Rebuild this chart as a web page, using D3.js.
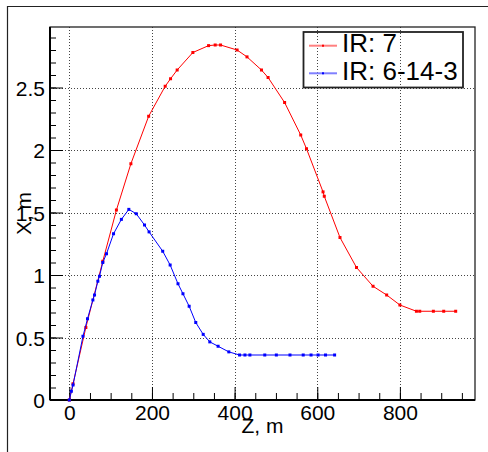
<!DOCTYPE html>
<html>
<head>
<meta charset="utf-8">
<script src="https://cdn.jsdelivr.net/npm/d3@7"></script>
<style>
  body { margin: 0; background: #fff; }
  svg { display: block; font-family: "Liberation Sans", Arial, sans-serif; }
</style>
</head>
<body>
<svg id="chart" width="488" height="452"></svg>
<script>
// IR: 7
const redZ = [0, 9, 40, 81, 114, 149, 192, 232, 245, 261, 299, 337, 353, 366, 406, 430, 465, 481, 521, 560, 574, 614, 617, 655, 695, 735, 768, 800, 840, 848, 881, 906, 935];
const redX = [0, 0.13, 0.58, 1.11, 1.52, 1.89, 2.27, 2.51, 2.57, 2.64, 2.78, 2.835, 2.84, 2.84, 2.80, 2.745, 2.64, 2.58, 2.38, 2.12, 2.01, 1.665, 1.63, 1.30, 1.06, 0.91, 0.84, 0.76, 0.71, 0.71, 0.71, 0.71, 0.71];
// IR: 6-14-3
const blueZ = [0, 5, 9, 33, 44, 57, 61, 69, 73, 81, 90, 107, 126, 144, 162, 182, 193, 226, 244, 263, 275, 290, 306, 324, 340, 360, 386, 412, 425, 437, 473, 501, 534, 566, 585, 602, 620, 642];
const blueX = [0, 0.07, 0.12, 0.51, 0.65, 0.80, 0.84, 0.95, 0.99, 1.10, 1.17, 1.33, 1.445, 1.525, 1.49, 1.40, 1.345, 1.19, 1.08, 0.93, 0.85, 0.75, 0.62, 0.525, 0.465, 0.43, 0.385, 0.36, 0.36, 0.36, 0.36, 0.36, 0.36, 0.36, 0.36, 0.36, 0.36, 0.36];

const xTicks = [0, 200, 400, 600, 800];
const yTicks = [0, 0.5, 1, 1.5, 2, 2.5];
const seriesNames = ['IR: 7', 'IR: 6-14-3'];
const seriesColours = ['#ff0000', '#0000ff'];
const legendColours = ['#ff8080', '#8080ff'];

const plotLeft = 50, plotRight = 475, plotTop = 27, plotBottom = 400;

const svg = d3.select('#chart');

// outer canvas frame (only left and top edges show)
svg.append('path')
  .attr('d', `M7.5,452 V6.5 H488`)
  .attr('fill', 'none')
  .attr('stroke', '#222')
  .attr('stroke-width', 1.2);

const x = d3.scaleLinear().domain([-46.75, 981.75]).range([plotLeft, plotRight]);
const y = d3.scaleLinear().domain([0, 2.984]).range([plotBottom, plotTop]);

const minorX = d3.range(0, 951, 50);
const minorY = d3.range(0, 30).map((i) => i / 10);

// grid
svg.append('g')
  .selectAll('line')
  .data(xTicks).enter()
  .append('line')
  .attr('x1', (d) => Math.round(x(d)) + 0.5)
  .attr('x2', (d) => Math.round(x(d)) + 0.5)
  .attr('y1', plotTop).attr('y2', plotBottom)
  .attr('stroke', '#444')
  .attr('stroke-dasharray', '1,2');

svg.append('g')
  .selectAll('line')
  .data(yTicks.slice(1)).enter()
  .append('line')
  .attr('y1', (d) => Math.round(y(d)) + 0.5)
  .attr('y2', (d) => Math.round(y(d)) + 0.5)
  .attr('x1', plotLeft).attr('x2', plotRight)
  .attr('stroke', '#444')
  .attr('stroke-dasharray', '1,2');

// frame
svg.append('rect')
  .attr('x', plotLeft).attr('y', plotTop)
  .attr('width', plotRight - plotLeft).attr('height', plotBottom - plotTop)
  .attr('fill', 'none')
  .attr('stroke', '#222')
  .attr('stroke-width', 1.3);

// x axis
const xMinor = svg.append('g')
  .attr('transform', `translate(0, ${plotBottom})`)
  .call(d3.axisBottom(x).tickValues(minorX).tickSize(-7).tickFormat(''));
xMinor.select('.domain').remove();

const xAxis = svg.append('g')
  .attr('transform', `translate(0, ${plotBottom})`)
  .call(d3.axisBottom(x).tickValues(xTicks).tickSize(-13).tickFormat(d3.format('d')));
xAxis.select('.domain').attr('stroke-width', 2).attr('d', `M${plotLeft},0H${plotRight}`);
xAxis.selectAll('text')
  .attr('y', 20).attr('dy', 0)
  .style('font-size', '21px')
  .attr('fill', '#000');

// y axis
const yMinor = svg.append('g')
  .attr('transform', `translate(${plotLeft}, 0)`)
  .call(d3.axisLeft(y).tickValues(minorY).tickSize(-6).tickFormat(''));
yMinor.select('.domain').remove();

const yAxis = svg.append('g')
  .attr('transform', `translate(${plotLeft}, 0)`)
  .call(d3.axisLeft(y).tickValues(yTicks).tickSize(-13).tickFormat((d) => d));
yAxis.select('.domain').attr('stroke-width', 2).attr('d', `M0,${plotBottom}V${plotTop}`);
yAxis.selectAll('text')
  .attr('x', -5).attr('dy', '0.36em')
  .style('font-size', '21px')
  .attr('fill', '#000');

// axis titles
svg.append('text')
  .attr('x', (plotLeft + plotRight) / 2)
  .attr('y', 433)
  .attr('text-anchor', 'middle')
  .style('font-size', '21px')
  .text('Z, m');

svg.append('text')
  .attr('transform', `translate(31, ${(plotTop + plotBottom) / 2}) rotate(-90)`)
  .attr('text-anchor', 'middle')
  .style('font-size', '21px')
  .text('X, m');

// curves
const series = [
  { z: redZ, v: redX },
  { z: blueZ, v: blueX }
];

const line = d3.line().x((d) => x(d[0])).y((d) => y(d[1]));

series.forEach((s, i) => {
  const pts = s.z.map((z, j) => [z, s.v[j]]);
  svg.append('path')
    .datum(pts)
    .attr('d', line)
    .attr('fill', 'none')
    .attr('stroke', seriesColours[i])
    .attr('stroke-width', 1);
  svg.append('g').selectAll('rect')
    .data(pts).enter()
    .append('rect')
    .attr('x', (d) => x(d[0]) - 1.5)
    .attr('y', (d) => y(d[1]) - 1.5)
    .attr('width', 3)
    .attr('height', 3)
    .attr('fill', seriesColours[i]);
});

// legend
const legend = svg.append('g');
legend.append('rect')
  .attr('x', 303.5).attr('y', 32)
  .attr('width', 159.5).attr('height', 55.5)
  .attr('fill', 'none')
  .attr('stroke', '#222')
  .attr('stroke-width', 1.8);

seriesNames.forEach((name, i) => {
  const ly = 45.7 + i * 27.6;
  legend.append('line')
    .attr('x1', 309).attr('x2', 337)
    .attr('y1', ly).attr('y2', ly)
    .attr('stroke', legendColours[i])
    .attr('stroke-width', 2);
  legend.append('rect')
    .attr('x', 322).attr('y', ly - 1)
    .attr('width', 2).attr('height', 2)
    .attr('fill', seriesColours[i]);
  legend.append('text')
    .attr('x', 342)
    .attr('y', ly + 6.7)
    .style('font-size', '26px')
    .text(name);
});
</script>
</body>
</html>
